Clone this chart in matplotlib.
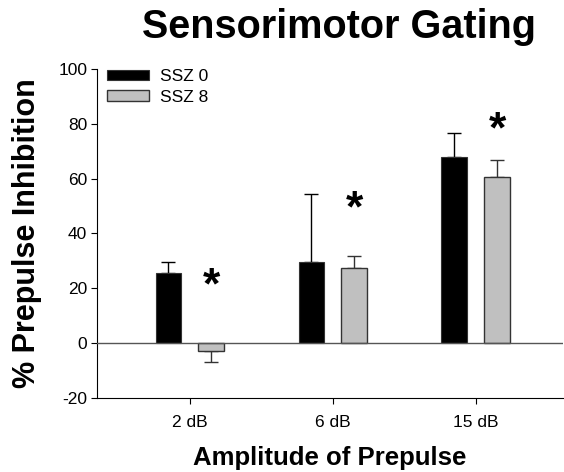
import matplotlib
matplotlib.use("Agg")
import matplotlib.pyplot as plt
import numpy as np

plt.rcParams['font.family'] = ['Liberation Sans', 'DejaVu Sans']
plt.rcParams['axes.unicode_minus'] = False

categories = ["2 dB", "6 dB", "15 dB"]
ssz0 = [25.7, 29.4, 68.0]
ssz0_err = [3.7, 25.0, 8.6]
ssz8 = [-2.9, 27.3, 60.7]
ssz8_err = [4.1, 4.3, 6.1]
star_y = [23.5, 51.5, 80.5]
yticks = [-20, 0, 20, 40, 60, 80, 100]

fig = plt.figure(figsize=(5.64, 4.72), dpi=100)
ax = fig.add_axes([0.172, 0.157, 0.826, 0.697])

x = np.arange(1, len(categories) + 1)
off = 0.15
w = 0.18
ax.bar(x - off, ssz0, w, color='black', edgecolor='#333333', linewidth=0.8, label='SSZ 0', zorder=3)
ax.bar(x + off, ssz8, w, color='#c0c0c0', edgecolor='#333333', linewidth=1.0, label='SSZ 8', zorder=3)

def errs(vals, e):
    lo = [0 if v >= 0 else ee for v, ee in zip(vals, e)]
    hi = [ee if v >= 0 else 0 for v, ee in zip(vals, e)]
    return [lo, hi]

ax.errorbar(x - off, ssz0, yerr=errs(ssz0, ssz0_err), fmt='none', ecolor='black',
            elinewidth=1.0, capsize=5, capthick=1.0, zorder=2)
ax.errorbar(x + off, ssz8, yerr=errs(ssz8, ssz8_err), fmt='none', ecolor='#333333',
            elinewidth=1.0, capsize=5, capthick=1.0, zorder=2)

for xi, sy in zip(x + off, star_y):
    ax.annotate('*', xy=(xi, sy), xytext=(0, -6), textcoords='offset points',
                ha='center', va='center', fontsize=32, fontweight='bold')

ax.axhline(0, color='#555555', linewidth=1.0, zorder=4)

ax.set_xlim(0.35, 3.61)
ax.set_ylim(-20, 100)
ax.set_yticks(yticks)
ax.set_xticks(x)
ax.set_xticklabels(categories)
ax.tick_params(axis='both', labelsize=12.5, direction='out', length=4, pad=3)
ax.tick_params(axis='x', pad=8)
for s in ['top', 'right']:
    ax.spines[s].set_visible(False)

ax.set_ylabel('% Prepulse Inhibition', fontsize=22, fontweight='bold')
ax.yaxis.set_label_coords(-0.118, 0.5)
ax.set_xlabel('Amplitude of Prepulse', fontsize=18.5, fontweight='bold', labelpad=12)
fig.text(0.601, 0.919, 'Sensorimotor Gating', ha='center', va='baseline', fontsize=28.5, fontweight='bold')

ax.legend(loc='upper left', bbox_to_anchor=(0.0, 1.03), frameon=False, fontsize=12.5,
          handlelength=2.4, handleheight=0.52, handletextpad=0.6, borderaxespad=0.2, labelspacing=0.3)

fig.savefig('out.png', dpi=100)
